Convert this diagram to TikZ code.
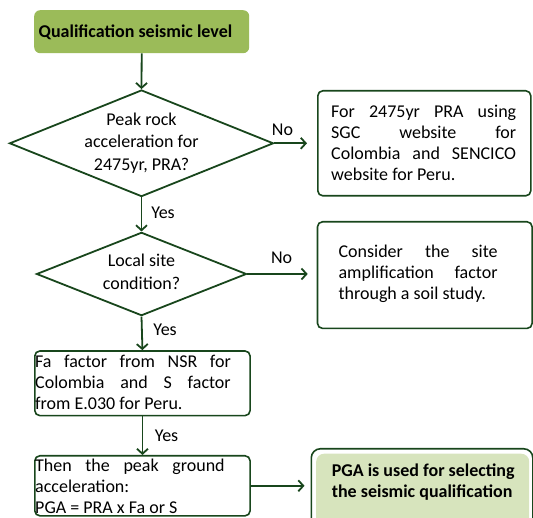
\documentclass[tikz,border=0pt]{standalone}
\usepackage{fontspec}
\setmainfont{Carlito}
\usetikzlibrary{shapes.geometric,arrows.meta}
\definecolor{lc}{RGB}{24,70,28}
\definecolor{topg}{RGB}{155,187,89}
\definecolor{lightg}{RGB}{215,228,189}
\hbadness=10000
\begin{document}
\begin{tikzpicture}[x=1pt,y=-1pt,
  every node/.style={font=\fontsize{18}{21}\selectfont, inner sep=0pt},
  box/.style={draw=lc, line width=1.6pt, rounded corners=5pt, anchor=north west},
  topbox/.style={fill=topg, rounded corners=6pt, anchor=north west},
  dia/.style={draw=lc, line width=1.8pt, diamond, inner sep=0pt},
  arr/.style={draw=lc, line width=1.8pt, -{Straight Barb[length=5pt,width=11pt]}},
  txt/.style={align=justify, anchor=west},
  boldtxt/.style={font=\fontsize{18}{21}\selectfont\bfseries},
  diatxt/.style={align=center, font=\fontsize{18}{22.5}\selectfont}]
\useasboundingbox (0,0) rectangle (533,518);

% top box
\node[topbox, minimum width=215pt, minimum height=43pt] (q) at (34,10) {};
\node[boldtxt] (qt) at (135.5,32) {Qualification seismic level};

% diamonds
\node[dia, minimum width=264pt, minimum height=106.6pt] (d1) at (141.5,143.3) {};
\node[diatxt] (d1t) at (141.5,143) {Peak rock\\acceleration for\\2475yr, PRA?};
\node[dia, minimum width=210pt, minimum height=83.3pt] (d2) at (141.5,274) {};
\node[diatxt, font=\fontsize{18}{23}\selectfont] (d2t) at (141.5,271.6) {Local site\\condition?};

% boxes
\node[box, minimum width=213pt, minimum height=105pt] (b2) at (317,90) {};
\node[txt, text width=185pt] (b2t) at (331,142.5) {For 2475yr PRA using\linebreak SGC website for\linebreak Colombia and SENCICO\linebreak website for Peru.};

\node[box, minimum width=214.6pt, minimum height=106.6pt] (b3) at (316.7,221) {};
\node[txt, text width=159pt] (b3t) at (338.4,273.5) {Consider the site\linebreak amplification factor\linebreak through a soil study.};

\node[box, minimum width=215.3pt, minimum height=64.6pt] (b4) at (34,350.2) {};
\node[txt, text width=195.6pt] (b4t) at (35,382.3) {Fa factor from NSR for\linebreak Colombia and S factor\linebreak from E.030 for Peru.};

\node[box, minimum width=215.3pt, minimum height=60pt] (b5) at (34,455) {};
\node[txt, text width=189.5pt] (b5t) at (35,486.8) {Then the peak ground\linebreak acceleration:\newline PGA = PRA x Fa or S};

\node[box, minimum width=221.5pt, minimum height=90pt, rounded corners=9pt] (b6) at (310.5,448) {};
\node[fill=lightg, rounded corners=8pt, anchor=north west, minimum width=213pt, minimum height=80pt] (b6f) at (316,453.5) {};
\node[boldtxt, anchor=west, align=left] (b6t) at (331.6,482) {PGA is used for selecting\\the seismic qualification};

% arrows
\draw[arr] (q.south) -- (d1.north);
\draw[arr] (d1.south) -- (d2.north);
\draw[arr] (d2.south) -- (b4.north);
\draw[arr] (b4.south) -- (b5.north);
\draw[arr, shorten >=10pt] (d1.east) -- (d1.east -| b2.west);
\draw[arr, shorten >=9pt] (d2.east) -- (d2.east -| b3.west);
\draw[arr, shorten >=6pt] (b5.east) -- (b5.east -| b6.west);

% labels
\node (no1) at (282.5,130) {No};
\node (no2) at (281.6,257.8) {No};
\node (yes1) at (163,212.6) {Yes};
\node (yes2) at (165,330) {Yes};
\node (yes3) at (166.5,436) {Yes};
\end{tikzpicture}
\end{document}
